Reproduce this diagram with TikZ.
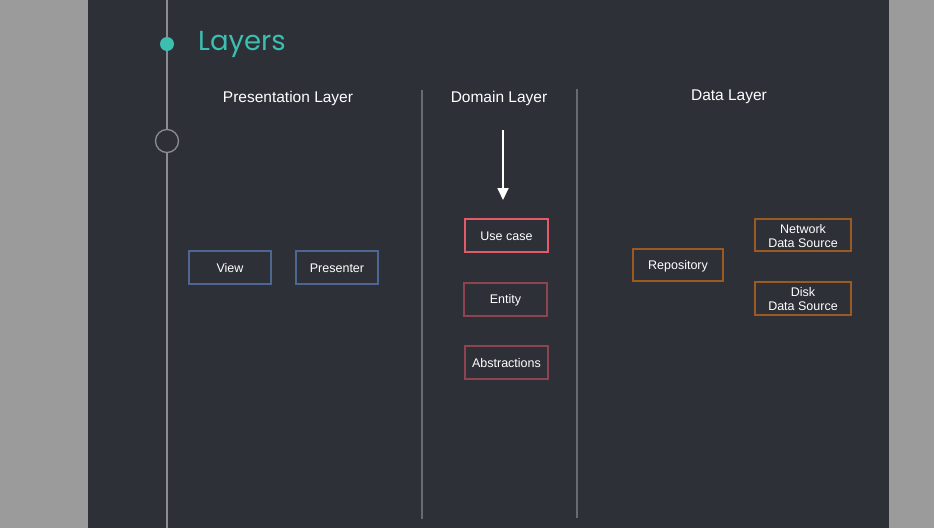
\documentclass[tikz,border=0pt]{standalone}
\usepackage{fontspec}
\setmainfont{Liberation Sans}
\newfontfamily\titlefont{Poppins}
\usetikzlibrary{arrows.meta}
\definecolor{outerbg}{HTML}{9B9B9B}
\definecolor{panel}{HTML}{2E3038}
\definecolor{tline}{HTML}{8C8C90}
\definecolor{teal}{HTML}{3CBFAE}
\definecolor{sep}{HTML}{6A6B6F}
\definecolor{presc}{HTML}{4D6792}
\definecolor{usec}{HTML}{E35A68}
\definecolor{domc}{HTML}{8E4450}
\definecolor{datac}{HTML}{9A5A22}
\tikzset{
  box/.style={draw, line width=2pt, fill=panel, inner sep=0pt, anchor=north west, outer sep=0pt},
  boxtext/.style={text=white, font=\fontsize{12.5}{14}\selectfont, align=center, inner sep=0pt, yshift=-1pt},
  head/.style={text=white, font=\fontsize{15.5}{17}\selectfont},
  sepline/.style={sep, line width=2.5pt},
}
\begin{document}
\begin{tikzpicture}[x=1pt,y=-1pt]
\useasboundingbox (0,0) rectangle (934,528);
\fill[outerbg] (0,0) rectangle (934,528);
\fill[panel] (88,0) rectangle (889,528);
% timeline
\coordinate (t0) at (167,0);
\coordinate (t1) at (167,528);
\draw[tline, line width=1.5pt] (t0) -- (t1);
\node[circle, fill=teal, minimum size=14pt, inner sep=0pt] (dot) at (167,44) {};
\node[circle, draw=tline, line width=1.3pt, fill=panel, minimum size=23pt, inner sep=0pt] (ring) at (167,141) {};
\node[anchor=west, text=teal, font=\titlefont\fontsize{27.5}{30}\selectfont, inner sep=0pt] (title) at (198,44) {Layers};
% headings
\node[head] (ph) at (288,98) {Presentation Layer};
\node[head] (dh) at (499,98) {Domain Layer};
\node[head] (dah) at (729,97) {Data Layer};
% separators
\coordinate (s1a) at (422,90);
\coordinate (s1b) at (422,519);
\coordinate (s2a) at (577,89);
\coordinate (s2b) at (577,518);
\draw[sepline] (s1a) -- (s1b);
\draw[sepline] (s2a) -- (s2b);
% arrow
\coordinate (a0) at (503,130);
\coordinate (a1) at (503,200);
\draw[white, line width=1.8pt, -{Triangle[width=11pt,length=12pt]}] (a0) -- (a1);
% presentation boxes
\node[box, draw=presc, minimum width=82pt, minimum height=33pt, label={[boxtext]center:View}] (view) at (189,251) {};
\node[box, draw=presc, minimum width=82pt, minimum height=33pt, label={[boxtext]center:Presenter}] (pres) at (296,251) {};
% domain boxes
\node[box, draw=usec, minimum width=83pt, minimum height=33pt, label={[boxtext]center:Use case}] (uc) at (465,219) {};
\node[box, draw=domc, minimum width=83pt, minimum height=33pt, label={[boxtext]center:Entity}] (ent) at (464,283) {};
\node[box, draw=domc, minimum width=83pt, minimum height=33pt, label={[boxtext]center:Abstractions}] (abs) at (465,346) {};
% data boxes
\node[box, draw=datac, minimum width=90pt, minimum height=32pt, label={[boxtext]center:Repository}] (repo) at (633,249) {};
\node[box, draw=datac, minimum width=96pt, minimum height=32pt, label={[boxtext]center:Network\\Data Source}] (net) at (755,219) {};
\node[box, draw=datac, minimum width=96pt, minimum height=33pt, label={[boxtext]center:Disk\\Data Source}] (disk) at (755,282) {};
\end{tikzpicture}
\end{document}
